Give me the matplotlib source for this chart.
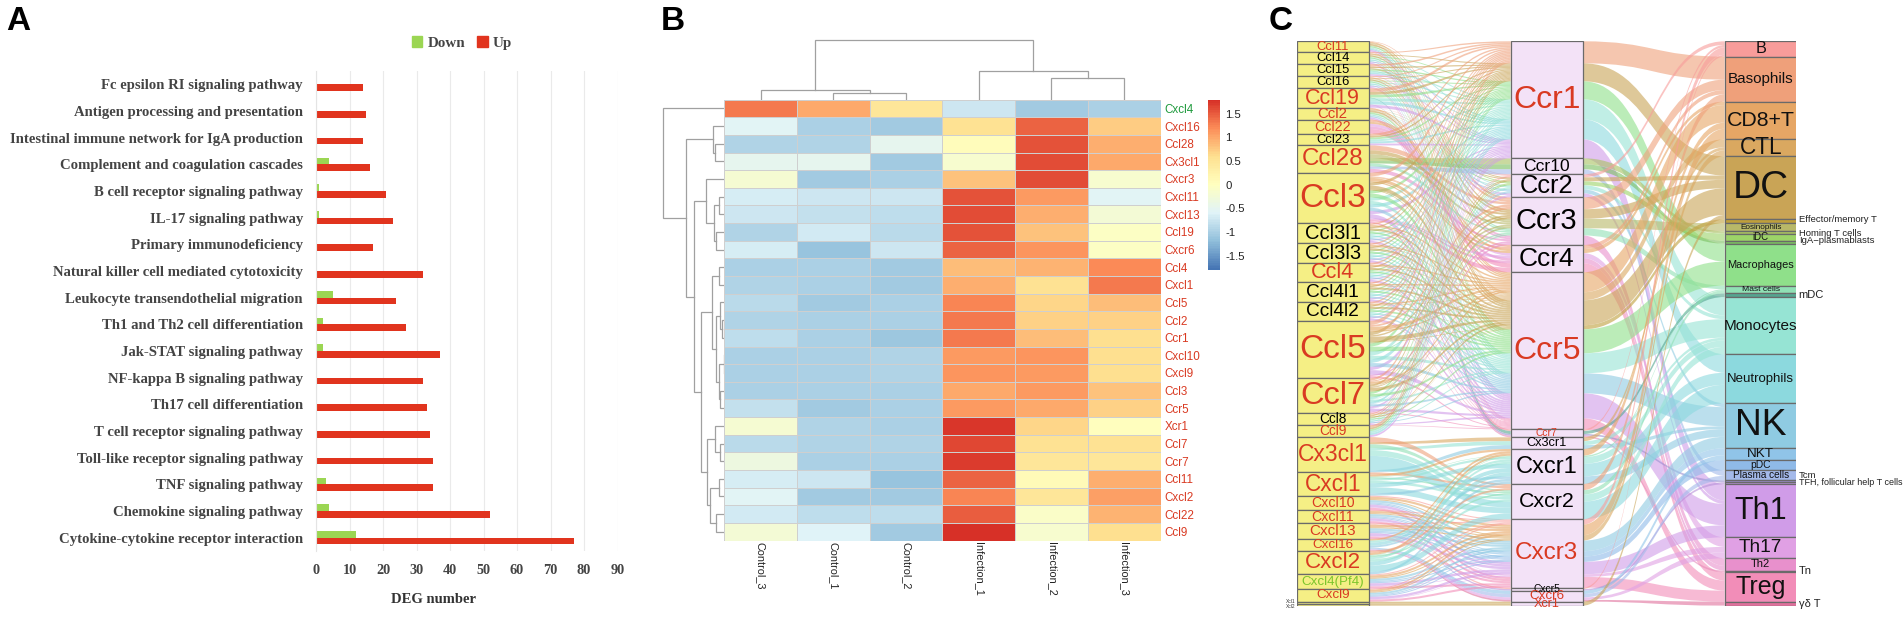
#!/usr/bin/env python3
"""Pathway bars, chemokine heatmap and ligand-receptor-cell alluvial."""
from __future__ import annotations

import matplotlib

matplotlib.use("Agg")
import matplotlib.pyplot as plt
import numpy as np
from matplotlib.colors import LinearSegmentedColormap
from matplotlib.patches import PathPatch, Patch
from matplotlib.path import Path

WIDTH, HEIGHT = 1903, 618
RED = "#D93A22"
GREEN = "#7CC52C"

# panel A
PATHWAYS = [
    "Fc epsilon RI signaling pathway", "Antigen processing and presentation",
    "Intestinal immune network for IgA production", "Complement and coagulation cascades",
    "B cell receptor signaling pathway", "IL-17 signaling pathway", "Primary immunodeficiency",
    "Natural killer cell mediated cytotoxicity", "Leukocyte transendothelial migration",
    "Th1 and Th2 cell differentiation", "Jak-STAT signaling pathway", "NF-kappa B signaling pathway",
    "Th17 cell differentiation", "T cell receptor signaling pathway", "Toll-like receptor signaling pathway",
    "TNF signaling pathway", "Chemokine signaling pathway", "Cytokine-cytokine receptor interaction",
]
UP_COUNTS = [14, 15, 14, 16, 21, 23, 17, 32, 24, 27, 37, 32, 33, 34, 35, 35, 52, 77]
DOWN_COUNTS = [0, 0, 0, 4, 1, 1, 0, 0, 5, 2, 2, 0, 0, 0, 0, 3, 4, 12]

# panel B
SAMPLES = ["Control_3", "Control_1", "Control_2", "Infection_1", "Infection_2", "Infection_3"]
GENES = [
    "Cxcl4", "Cxcl16", "Ccl28", "Cx3cl1", "Cxcr3", "Cxcl11", "Cxcl13", "Ccl19", "Cxcr6", "Ccl4", "Cxcl1", "Ccl5",
    "Ccl2", "Ccr1", "Cxcl10", "Cxcl9", "Ccl3", "Ccr5", "Xcr1", "Ccl7", "Ccr7", "Ccl11", "Cxcl2", "Ccl22", "Ccl9",
]
EXPRESSION = [
    [1.30, 1.00, 0.50, -0.75, -1.05, -1.00],
    [-0.55, -1.00, -1.05, 0.55, 1.45, 0.75],
    [-0.95, -0.95, -0.50, 0.05, 1.55, 0.95],
    [-0.50, -0.50, -1.05, -0.15, 1.60, 1.00],
    [-0.20, -1.05, -1.00, 0.80, 1.60, -0.15],
    [-0.65, -0.75, -0.75, 1.55, 1.10, -0.55],
    [-0.75, -0.80, -0.85, 1.60, 0.95, -0.25],
    [-0.95, -0.70, -0.90, 1.55, 0.80, -0.05],
    [-0.65, -1.15, -0.75, 1.45, 1.15, -0.05],
    [-1.00, -1.00, -1.05, 0.85, 0.90, 1.20],
    [-0.95, -1.00, -1.05, 0.95, 0.55, 1.30],
    [-0.90, -1.05, -1.00, 1.25, 0.65, 0.85],
    [-0.95, -1.00, -1.00, 1.30, 0.70, 0.70],
    [-0.85, -1.00, -1.10, 1.30, 0.85, 0.60],
    [-1.00, -1.00, -0.95, 1.10, 1.15, 0.60],
    [-1.00, -1.00, -0.95, 1.15, 1.10, 0.60],
    [-1.00, -1.00, -1.00, 1.00, 1.10, 0.80],
    [-0.80, -1.05, -1.00, 1.10, 1.00, 0.70],
    [-0.20, -0.95, -1.00, 1.75, 0.65, 0.00],
    [-0.90, -0.95, -0.95, 1.65, 0.55, 0.55],
    [-0.35, -1.00, -1.00, 1.70, 0.50, 0.50],
    [-0.65, -0.75, -1.15, 1.45, 0.10, 0.95],
    [-0.55, -1.05, -1.05, 1.25, 0.50, 1.05],
    [-0.70, -0.85, -0.85, 1.50, -0.10, 0.90],
    [-0.25, -0.60, -1.05, 1.80, -0.15, 0.60],
]
# merges are (height, child, child), a child being a leaf index or another merge
SAMPLE_TREE = (59.3, (9.9, 0, (6.7, 1, 2)), (28.5, 3, (21.7, 4, 5)))
GENE_TREE = (
    61.0, 0,
    (38.7,
     (11.7, 1, (9.0, 2, 3)),
     (30.3,
      (18.3, 4, (10.3, (5.0, 5, 6), (8.3, 7, 8))),
      (23.0,
       (12.7, (5.0, 9, 10),
        (8.3, (4.7, 11, (2.3, 12, 13)), (5.7, (0.7, 14, 15), (4.3, 16, 17)))),
       (17.0,
        (9.7, 18, (4.7, 19, 20)),
        (14.7, (5.7, 21, 22), (8.7, 23, 24)))))),
)

# panel C, node sizes are in picture units of the stacked columns
LIGANDS = [
    "Ccl11", "Ccl14", "Ccl15", "Ccl16", "Ccl19", "Ccl2", "Ccl22", "Ccl23", "Ccl28", "Ccl3", "Ccl3l1", "Ccl3l3",
    "Ccl4", "Ccl4l1", "Ccl4l2", "Ccl5", "Ccl7", "Ccl8", "Ccl9", "Cx3cl1", "Cxcl1", "Cxcl10", "Cxcl11", "Cxcl13",
    "Cxcl16", "Cxcl2", "Cxcl4(Pf4)", "Cxcl9", "Xcl1", "Xcl2",
]
LIGAND_SIZES = [11, 12, 12, 12, 19.7, 11.7, 14, 11.7, 27.3, 50.7, 20, 19.7, 19.3, 19.7, 19, 57, 35.3, 12, 11.7,
                35.3, 23.3, 14.3, 13.3, 15.7, 11.7, 23.7, 14.3, 13, 2, 2]
LIGAND_FONTS = [9.4, 9.4, 9.4, 9.4, 15.5, 10.8, 10.3, 9.4, 17.4, 24, 14.5, 14.5, 15.6, 13.8, 13.8, 24, 23.4, 9.8, 9.8,
                16.5, 16.3, 10.2, 10.2, 11, 9.6, 16.1, 9.6, 9.6, 3.5, 3.5]
LIGAND_COLORS = [RED, "k", "k", "k", RED, RED, RED, "k", RED, RED, "k", "k", RED, "k", "k", RED, RED, "k", RED,
                 RED, RED, RED, RED, RED, RED, RED, GREEN, RED, "k", "k"]
LIGAND_TARGETS = [
    ["Ccr3", "Ccr5"], ["Ccr1", "Ccr5"], ["Ccr1", "Ccr3"], ["Ccr1", "Ccr2", "Ccr5"], ["Ccr7", "Ccr1"], ["Ccr2", "Ccr5"],
    ["Ccr4"], ["Ccr1"], ["Ccr10", "Ccr3"], ["Ccr1", "Ccr4", "Ccr5"], ["Ccr1", "Ccr5"], ["Ccr1", "Ccr5"],
    ["Ccr1", "Ccr5"], ["Ccr1", "Ccr5"], ["Ccr1", "Ccr5"], ["Ccr1", "Ccr3", "Ccr5"], ["Ccr1", "Ccr2", "Ccr3", "Ccr5"],
    ["Ccr1", "Ccr2", "Ccr5"], ["Ccr1"], ["Cx3cr1", "Cxcr2"], ["Cxcr2", "Cxcr1"], ["Cxcr3"], ["Cxcr3"],
    ["Cxcr5", "Cxcr3"], ["Cxcr6", "Cxcr1"], ["Cxcr1", "Cxcr2"], ["Cxcr3"], ["Cxcr3"], ["Xcr1"], ["Xcr1"],
]
RECEPTORS = ["Ccr1", "Ccr10", "Ccr2", "Ccr3", "Ccr4", "Ccr5", "Ccr7", "Cx3cr1", "Cxcr1", "Cxcr2", "Cxcr3", "Cxcr5",
             "Cxcr6", "Xcr1"]
RECEPTOR_SIZES = [117, 16, 23, 47.7, 27.3, 157, 8, 11.7, 35, 35.3, 68.3, 3, 11, 4]
RECEPTOR_FONTS = [23, 12.6, 18.4, 21, 19, 23, 7.4, 9.2, 17, 15.4, 17.5, 7.4, 9.6, 9.1]
RECEPTOR_COLORS = [RED, "k", "k", "k", "k", RED, RED, "k", "k", "k", RED, "k", RED, RED]
RECEPTOR_CELLS = [
    ["Basophils", "DC", "Macrophages", "Monocytes", "Neutrophils", "Th1"],
    ["Homing T cells", "IgA-plasmablasts", "Plasma cells"],
    ["B", "DC", "iDC", "Monocytes", "NK", "Th1"],
    ["Basophils", "DC", "Eosinophils", "Mast cells", "Th2"],
    ["Basophils", "CD8+T", "Th17", "Th2", "Treg"],
    ["CD8+T", "CTL", "DC", "Effector/memory T", "Macrophages", "Monocytes", "NK", "Th1", "Treg"],
    ["B", "mDC", "Tcm", "Tn"],
    ["CTL", "Monocytes", "NK"],
    ["CD8+T", "Mast cells", "Monocytes", "Neutrophils", "NK"],
    ["Basophils", "Mast cells", "Monocytes", "Neutrophils"],
    ["B", "CD8+T", "CTL", "NK", "NKT", "pDC", "Th1", "Th17", "Treg"],
    ["B", "TFH, follicular help T cells"],
    ["NKT", "Plasma cells", "Th17", "γδ T"],
    ["DC"],
]
RECEPTOR_WEIGHTS = [
    [22, 18, 18, 20, 20, 19],
    [6, 5, 5],
    [3, 4, 4, 4, 4, 4],
    [10, 8, 8, 6, 8],
    [4, 4, 5, 5, 9],
    [20, 8, 25, 4, 24, 20, 20, 25, 11],
    [2, 3.7, 2, 2],
    [3, 3, 3],
    [7, 1.5, 7, 13, 8],
    [7, 5, 8, 20],
    [6, 12, 6, 12, 6, 6, 14, 3, 12],
    [1.5, 1.5],
    [4, 4, 3, 2],
    [4],
]
CELLS = ["B", "Basophils", "CD8+T", "CTL", "DC", "Effector/memory T", "Eosinophils", "Homing T cells", "iDC",
         "IgA-plasmablasts", "Macrophages", "Mast cells", "mDC", "Monocytes", "Neutrophils", "NK", "NKT", "pDC",
         "Plasma cells", "Tcm", "TFH, follicular help T cells", "Th1", "Th17", "Th2", "Tn", "Treg", "γδ T"]
CELL_SIZES = [15.3, 45, 37.7, 17, 63, 4, 8, 2.3, 7, 3, 42, 7.7, 3.7, 57.3, 49, 45, 11.7, 10.3, 10, 2, 2, 53, 21,
              12.3, 1.7, 29.3, 4]
CELL_FONTS = [11.7, 11, 15.4, 16.3, 28, 6.8, 5.9, 6.8, 6.9, 6.8, 7.9, 6.1, 8, 11, 9.5, 26.8, 9.6, 7.4, 7.2, 6.8, 6.5,
              22, 13.7, 8, 8, 18, 8]
CELL_COLORS = ["#F89C9A", "#EFA07A", "#E6A665", "#DAA860", "#C9A456", "#BF9F3A", "#B8B868", "#A8C060", "#9CD368",
               "#7BBF60", "#8FE08A", "#90E0B5", "#55A590", "#96E4D4", "#8CD9DE", "#8FCBE2", "#90C4E8", "#8FBAE8",
               "#A4B9EA", "#9C8FD0", "#B890D8", "#D09CE8", "#E0A0E4", "#E890CC", "#E88AB8", "#F28DB8", "#E0709C"]
OUTSIDE_CELLS = ["Effector/memory T", "Homing T cells", "IgA-plasmablasts", "mDC", "Tcm",
                 "TFH, follicular help T cells", "Tn", "γδ T"]
OUTSIDE_OFFSETS = [-1.5, 1.3, -2.0, 0, -5.5, -0.5, 0, 0]


def px_axes(fig: plt.Figure, left: float, top: float, right: float, bottom: float) -> plt.Axes:
    return fig.add_axes([left / WIDTH, 1 - bottom / HEIGHT, (right - left) / WIDTH, (bottom - top) / HEIGHT])


def panel_bars(fig: plt.Figure) -> None:
    ax = px_axes(fig, 316, 71, 617.6, 551)
    rows = np.arange(len(PATHWAYS))
    ax.barh(rows - 0.125, DOWN_COUNTS, height=0.25, color="#9BD653")
    ax.barh(rows + 0.125, UP_COUNTS, height=0.25, color="#E1341E")
    ax.set_xlim(0, 90)
    ax.set_ylim(len(PATHWAYS) - 0.5, -0.5)
    ax.set_xticks(np.arange(0, 100, 10))
    ax.set_yticks(rows, PATHWAYS)
    ax.tick_params(length=0)
    ax.tick_params(axis="y", pad=9.4)
    ax.tick_params(axis="x", pad=9)
    for label in ax.get_xticklabels():
        label.set(family="Liberation Serif", weight="bold", color="#444444", fontsize=10.3)
    for label in ax.get_yticklabels():
        label.set(family="Liberation Serif", weight="bold", color="#444444", fontsize=10.6)
    for side in ("top", "right", "bottom"):
        ax.spines[side].set_visible(False)
    ax.spines["left"].set_color("#E4E4E4")
    ax.grid(axis="x", color="#EAEAEA", linewidth=0.8)
    ax.set_axisbelow(True)
    ax.set_xlabel("DEG number", family="Liberation Serif", weight="bold", color="#333333", fontsize=10.5, labelpad=12,
                  x=0.388)
    handles = [Patch(color="#9BD653", label="Down"), Patch(color="#E1341E", label="Up")]
    fig.legend(
        handles=handles, loc="center", bbox_to_anchor=(462 / WIDTH, 1 - 43 / HEIGHT), ncol=2, frameon=False,
        handlelength=0.7, handleheight=0.7, handletextpad=0.35, columnspacing=0.8,
        prop={"family": "Liberation Serif", "weight": "bold", "size": 10.8}, labelcolor="#444444",
    )


def draw_tree(ax: plt.Axes, node, vertical: bool) -> tuple[float, float]:
    # returns (leaf position, height) of the drawn node
    if not isinstance(node, tuple):
        return node + 0.5, 0.0
    height, first, second = node
    pos_a, h_a = draw_tree(ax, first, vertical)
    pos_b, h_b = draw_tree(ax, second, vertical)
    pos = [pos_a, pos_a, pos_b, pos_b]
    hts = [h_a, height, height, h_b]
    if vertical:
        ax.plot(pos, hts, color="#A0A0A0", linewidth=0.9, solid_joinstyle="miter")
    else:
        ax.plot(hts, pos, color="#A0A0A0", linewidth=0.9, solid_joinstyle="miter")
    return (pos_a + pos_b) / 2, height


def panel_heatmap(fig: plt.Figure) -> None:
    left, top, right, bottom = 724.3, 99.6, 1160.5, 540.5
    cmap = LinearSegmentedColormap.from_list(
        "rdylbu", ["#4575B4", "#91BFDB", "#E0F3F8", "#FFFFBF", "#FEE090", "#FC8D59", "#D73027"], N=100
    )
    ax = px_axes(fig, left, top, right, bottom)
    mesh = ax.pcolormesh(np.array(EXPRESSION), cmap=cmap, vmin=-1.8, vmax=1.8, edgecolors="#CFCFCF", linewidth=0.4)
    ax.set_xlim(0, len(SAMPLES))
    ax.set_ylim(len(GENES), 0)
    ax.set_xticks(np.arange(len(SAMPLES)) + 0.5, SAMPLES, rotation=270, fontsize=7.8, color="#222222")
    ax.set_yticks(np.arange(len(GENES)) + 0.5, GENES, fontsize=8.4)
    ax.yaxis.tick_right()
    ax.tick_params(length=0, pad=3)
    ax.tick_params(axis="x", pad=1)
    for label, gene in zip(ax.get_yticklabels(), GENES):
        label.set_color("#1E9A3C" if gene == "Cxcl4" else RED)
    for spine in ax.spines.values():
        spine.set_visible(False)

    top_ax = px_axes(fig, left, 35, right, top)
    top_ax.set_xlim(0, len(SAMPLES))
    top_ax.set_ylim(0, top - 35)
    draw_tree(top_ax, SAMPLE_TREE, True)
    top_ax.set_xticks([])
    top_ax.set_yticks([])
    top_ax.axis("off")

    side_ax = px_axes(fig, 655, top, left, bottom)
    side_ax.set_xlim(left - 655, 0)
    side_ax.set_ylim(len(GENES), 0)
    draw_tree(side_ax, GENE_TREE, False)
    side_ax.set_xticks([])
    side_ax.set_yticks([])
    side_ax.axis("off")

    bar_ax = px_axes(fig, 1208.3, 99.6, 1220, 269.7)
    colorbar = fig.colorbar(mesh, cax=bar_ax)
    colorbar.set_ticks([1.5, 1, 0.5, 0, -0.5, -1, -1.5], labels=["1.5", "1", "0.5", "0", "-0.5", "-1", "-1.5"])
    colorbar.ax.tick_params(length=0, labelsize=8.2, pad=4, labelcolor="#222222")
    colorbar.outline.set_visible(False)


def stack(sizes: list[float]) -> np.ndarray:
    return np.concatenate([[0.0], np.cumsum(sizes)[:-1]])


def allocate(items: list[tuple], sizes: list[float], tops: np.ndarray) -> dict:
    # items: (node index, sort key, weight, id); returns id -> (top, bottom)
    totals = np.zeros(len(sizes))
    for node, _, weight, _ in items:
        totals[node] += weight
    cursor = tops.copy()
    spans = {}
    for node, _, weight, item_id in sorted(items, key=lambda row: (row[0], row[1])):
        width = sizes[node] * weight / totals[node]
        spans[item_id] = (cursor[node], cursor[node] + width)
        cursor[node] += width
    return spans


def ribbon(ax: plt.Axes, x0: float, span0: tuple, x1: float, span1: tuple, color: str) -> None:
    mid = (x0 + x1) / 2
    verts = [
        (x0, span0[0]), (mid, span0[0]), (mid, span1[0]), (x1, span1[0]),
        (x1, span1[1]), (mid, span1[1]), (mid, span0[1]), (x0, span0[1]), (x0, span0[0]),
    ]
    codes = [Path.MOVETO, Path.CURVE4, Path.CURVE4, Path.CURVE4, Path.LINETO, Path.CURVE4, Path.CURVE4, Path.CURVE4,
             Path.CLOSEPOLY]
    ax.add_patch(PathPatch(Path(verts, codes), facecolor=color, edgecolor="none", alpha=0.6))


def panel_alluvial(fig: plt.Figure) -> None:
    ax = px_axes(fig, 1296.7, 41.3, 1796, 605.7)
    col_width = 72
    x_left, x_mid, x_right = 0, 214, 428
    total = sum(LIGAND_SIZES)
    ax.set_xlim(0, 499.3)
    ax.set_ylim(total, 0)
    ax.set_xticks([])
    ax.set_yticks([])
    ax.axis("off")

    receptor_index = {name: i for i, name in enumerate(RECEPTORS)}
    cell_index = {name: i for i, name in enumerate(CELLS)}
    ligand_tops, receptor_tops, cell_tops = stack(LIGAND_SIZES), stack(RECEPTOR_SIZES), stack(CELL_SIZES)

    strands, pairs = [], []
    for lig, targets in enumerate(LIGAND_TARGETS):
        for name in targets:
            rec = receptor_index[name]
            for cell_name, weight in zip(RECEPTOR_CELLS[rec], RECEPTOR_WEIGHTS[rec]):
                strands.append((lig, rec, cell_index[cell_name], weight))
    for rec, cells in enumerate(RECEPTOR_CELLS):
        for cell_name, weight in zip(cells, RECEPTOR_WEIGHTS[rec]):
            pairs.append((rec, cell_index[cell_name], weight))

    at_ligand = allocate([(s[0], (s[2], s[1]), s[3], i) for i, s in enumerate(strands)], LIGAND_SIZES, ligand_tops)
    at_receptor = allocate([(s[1], (s[2], s[0]), s[3], i) for i, s in enumerate(strands)], RECEPTOR_SIZES, receptor_tops)
    out_receptor = allocate([(p[0], p[1], p[2], i) for i, p in enumerate(pairs)], RECEPTOR_SIZES, receptor_tops)
    in_cell = allocate([(p[1], p[0], p[2], i) for i, p in enumerate(pairs)], CELL_SIZES, cell_tops)

    for i, strand in enumerate(strands):
        ribbon(ax, x_left + col_width, at_ligand[i], x_mid, at_receptor[i], CELL_COLORS[strand[2]])
    for i, pair in enumerate(pairs):
        ribbon(ax, x_mid + col_width, out_receptor[i], x_right, in_cell[i], CELL_COLORS[pair[1]])

    edge = {"edgecolor": "#6A6A6A", "linewidth": 0.9, "width": col_width, "align": "edge"}
    ax.bar(x_left, LIGAND_SIZES, bottom=ligand_tops, color="#F5EF85", **edge)
    ax.bar(x_mid, RECEPTOR_SIZES, bottom=receptor_tops, color="#F3E2F7", **edge)
    ax.bar(x_right, CELL_SIZES, bottom=cell_tops, color=CELL_COLORS, **edge)

    for name, top, size, font, color in zip(LIGANDS, ligand_tops, LIGAND_SIZES, LIGAND_FONTS, LIGAND_COLORS):
        if name.startswith("Xcl"):
            offset = -1.5 if name == "Xcl1" else 1.5
            ax.text(-1.5, top + size / 2 + offset, name, ha="right", va="center", fontsize=font, color="#333333")
        else:
            ax.text(x_left + col_width / 2, top + size / 2, name, ha="center", va="center", fontsize=font, color=color)
    for name, top, size, font, color in zip(RECEPTORS, receptor_tops, RECEPTOR_SIZES, RECEPTOR_FONTS, RECEPTOR_COLORS):
        ax.text(x_mid + col_width / 2, top + size / 2, name, ha="center", va="center", fontsize=font, color=color)
    for name, top, size, font in zip(CELLS, cell_tops, CELL_SIZES, CELL_FONTS):
        if name in OUTSIDE_CELLS:
            shift = OUTSIDE_OFFSETS[OUTSIDE_CELLS.index(name)]
            text = name.replace("-", "\u2212") if name.startswith("IgA") else name
            ax.text(x_right + col_width + 2, top + size / 2 + shift, text, ha="left", va="center", fontsize=font,
                    color="#222222", clip_on=False)
        else:
            ax.text(x_right + col_width / 2, top + size / 2, name, ha="center", va="center", fontsize=font,
                    color="#111111")


def main() -> None:
    plt.rcParams.update({"font.family": ["Liberation Sans", "DejaVu Sans"], "font.size": 9})
    fig = plt.figure(figsize=(WIDTH / 100, HEIGHT / 100), dpi=100, facecolor="white")
    panel_bars(fig)
    panel_heatmap(fig)
    panel_alluvial(fig)
    for letter, x_pos in [("A", 6), ("B", 661), ("C", 1269)]:
        fig.text(x_pos / WIDTH, 1 - 30 / HEIGHT, letter, fontsize=24, weight="bold", va="baseline", color="black")
    fig.savefig("out.png", dpi=100)
    plt.close(fig)


if __name__ == "__main__":
    main()
